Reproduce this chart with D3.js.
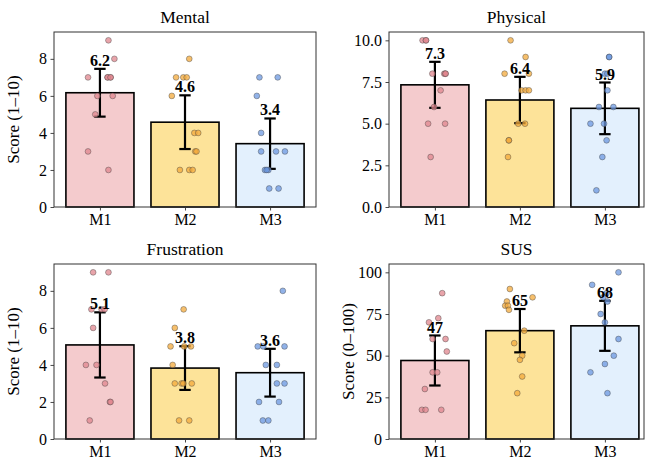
<!DOCTYPE html>
<html>
<head>
<meta charset="utf-8">
<script src="https://cdn.jsdelivr.net/npm/d3@7"></script>
<style>
  body { margin: 0; background: #fff; }
  svg { display: block; font-family: "Liberation Serif", "Times New Roman", serif; }
</style>
</head>
<body>
<div class="container"></div>
<script>
const W = 651;
const H = 463;

const methods = ['M1', 'M2', 'M3'];
const barColors = ['#f4cbcd', '#fde399', '#e3f0fd'];
const dotColors = ['#e0868d', '#f3a93b', '#6c98e0'];

const mentalMean = [6.17, 4.58, 3.42];
const mentalSd = [1.29, 1.45, 1.36];
const physicalMean = [7.33, 6.42, 5.92];
const physicalSd = [1.38, 1.39, 1.55];
const frustrationMean = [5.08, 3.83, 3.58];
const frustrationSd = [1.76, 1.18, 1.29];
const susMean = [47.1, 65.0, 67.9];
const susSd = [15, 13, 15];

// individual ratings per method
const mentalPts = [
    [9, 8, 7, 7, 7, 7, 7, 6, 6, 5, 3, 2],
    [8, 7, 7, 7, 6, 4, 4, 3, 3, 2, 2, 2],
    [7, 7, 6, 4, 3, 3, 3, 2, 2, 2, 1, 1]
];
const physicalPts = [
    [10, 10, 10, 8, 8, 8, 8, 7, 6, 5, 5, 3],
    [10, 9, 8, 8, 7, 7, 7, 5, 5, 4, 4, 3],
    [9, 9, 8, 8, 7, 6, 6, 5, 5, 4, 3, 1]
];
const frustrationPts = [
    [9, 9, 7, 7, 7, 6, 4, 4, 3, 2, 2, 1],
    [7, 6, 5, 5, 5, 4, 3, 3, 3, 3, 1, 1],
    [8, 5, 5, 5, 4, 4, 3, 3, 2, 2, 1, 1]
];
const susPts = [
    [87.5, 72.5, 70, 60, 60, 52.5, 40, 40, 30, 17.5, 17.5, 17.5],
    [90, 85, 82.5, 80, 80, 77.5, 65, 57.5, 50, 47.5, 37.5, 27.5],
    [100, 92.5, 87.5, 85, 82.5, 75, 70, 60, 50, 45, 40, 27.5]
];

// horizontal jitter of each dot, in category units
const mentalJit = [
    [0.10, 0.17, -0.14, 0.09, 0.125, 0.09, 0.125, -0.03, 0.15, -0.055, -0.14, 0.10],
    [0.05, -0.105, -0.02, 0.02, -0.155, 0.11, 0.155, 0.12, 0.135, -0.06, 0.05, 0.09],
    [-0.125, 0.09, -0.156, -0.105, -0.105, 0.07, 0.175, -0.06, -0.02, -0.04, -0.01, 0.10]
];
const physicalJit = [
    [-0.145, -0.105, -0.105, -0.03, 0.11, 0.125, 0.125, 0.067, -0.01, -0.08, 0.12, -0.05],
    [-0.11, 0.067, -0.18, 0.106, 0.02, 0.067, 0.106, -0.02, 0.06, -0.13, -0.13, -0.14],
    [0.05, 0.05, 0, 0.03, 0.03, -0.07, 0.10, -0.17, -0.01, 0.02, -0.03, -0.10]
];
const frustrationJit = [
    [-0.08, 0.10, -0.10, 0.02, 0.055, -0.08, -0.165, -0.04, 0.06, 0.117, 0.125, -0.12],
    [-0.016, -0.12, -0.17, -0.01, 0.07, -0.145, -0.12, -0.04, -0.02, 0.08, -0.07, 0.05],
    [0.15, -0.145, -0.08, 0.17, -0.05, 0.08, 0.08, 0.17, -0.13, 0.105, -0.085, -0.02]
];
const susJit = [
    [0.086, 0.04, -0.07, -0.027, 0.125, 0.14, -0.027, 0.027, -0.118, -0.153, -0.11, 0.075],
    [-0.118, 0.149, -0.153, -0.173, -0.141, -0.129, 0.051, -0.067, 0.027, 0, 0.027, -0.031],
    [0.16, -0.15, 0.02, -0.02, 0.03, -0.05, 0, 0.16, 0.105, 0, -0.17, 0.03]
];

const mentalTicks = [0, 2, 4, 6, 8];
const physicalTicks = [0, 2.5, 5, 7.5, 10];
const susTicks = [0, 25, 50, 75, 100];

const leftCol = { xs: [-0.54, 2.54], x0: 54, x1: 316 };
const rightCol = { xs: [-0.54, 2.46], x0: 389, x1: 644 };

const panels = [
    { title: 'Mental', mean: mentalMean, sd: mentalSd, pts: mentalPts, jit: mentalJit, ymax: 9.45, ticks: mentalTicks, tf: d3.format('d'), lf: d3.format('.1f'), ylabel: 'Score (1–10)', col: leftCol, y0: 32, y1: 207 },
    { title: 'Physical', mean: physicalMean, sd: physicalSd, pts: physicalPts, jit: physicalJit, ymax: 10.5, ticks: physicalTicks, tf: d3.format('.1f'), lf: d3.format('.1f'), ylabel: null, col: rightCol, y0: 32, y1: 207 },
    { title: 'Frustration', mean: frustrationMean, sd: frustrationSd, pts: frustrationPts, jit: frustrationJit, ymax: 9.45, ticks: mentalTicks, tf: d3.format('d'), lf: d3.format('.1f'), ylabel: 'Score (1–10)', col: leftCol, y0: 264, y1: 439 },
    { title: 'SUS', mean: susMean, sd: susSd, pts: susPts, jit: susJit, ymax: 105, ticks: susTicks, tf: d3.format('d'), lf: d3.format('.0f'), ylabel: 'Score (0–100)', col: rightCol, y0: 264, y1: 439 }
];

const svg = d3.select('.container')
    .append('svg')
    .attr('width', W)
    .attr('height', H);

panels.forEach(p => {
    const { x0, x1 } = p.col;
    const { y0, y1 } = p;
    const x = d3.scaleLinear().domain(p.col.xs).range([x0, x1]);
    const y = d3.scaleLinear().domain([0, p.ymax]).range([y1, y0]);
    const g = svg.append('g');

    // bars
    g.selectAll('rect.bar')
        .data(p.mean)
        .join('rect')
        .attr('class', 'bar')
        .attr('x', (d, i) => x(i - 0.4))
        .attr('y', d => y(d))
        .attr('width', x(0.8) - x(0))
        .attr('height', d => y(0) - y(d))
        .attr('fill', (d, i) => barColors[i])
        .attr('stroke', '#000')
        .attr('stroke-width', 1.6);

    // error bars
    const eb = g.selectAll('g.err')
        .data(p.mean)
        .join('g')
        .attr('class', 'err')
        .attr('stroke', '#000')
        .attr('stroke-width', 2.2);
    eb.append('line')
        .attr('x1', (d, i) => x(i)).attr('x2', (d, i) => x(i))
        .attr('y1', (d, i) => y(d - p.sd[i])).attr('y2', (d, i) => y(d + p.sd[i]));
    [-1, 1].forEach(s => {
        eb.append('line')
            .attr('x1', (d, i) => x(i) - 5.7).attr('x2', (d, i) => x(i) + 5.7)
            .attr('y1', (d, i) => y(d + s * p.sd[i])).attr('y2', (d, i) => y(d + s * p.sd[i]));
    });

    // dots
    p.pts.forEach((vals, i) => {
        g.selectAll(null)
            .data(vals)
            .join('circle')
            .attr('cx', (d, j) => x(i + p.jit[i][j]))
            .attr('cy', d => y(d))
            .attr('r', 2.9)
            .attr('fill', dotColors[i])
            .attr('fill-opacity', 0.75)
            .attr('stroke', '#444')
            .attr('stroke-opacity', 0.7)
            .attr('stroke-width', 0.6);
    });

    // value labels
    g.selectAll('text.val')
        .data(p.mean)
        .join('text')
        .attr('class', 'val')
        .attr('x', (d, i) => x(i))
        .attr('y', (d, i) => y(d + p.sd[i]) - 3)
        .attr('text-anchor', 'middle')
        .style('font-size', '16px')
        .style('font-weight', 'bold')
        .text(d => p.lf(d));

    // axes
    const yAxis = g.append('g')
        .attr('transform', `translate(${x0},0)`)
        .call(d3.axisLeft(y).tickValues(p.ticks).tickFormat(p.tf).tickSizeOuter(0).tickSize(3.5).tickPadding(3.5));
    const xAxis = g.append('g')
        .attr('transform', `translate(0,${y1})`)
        .call(d3.axisBottom(x).tickValues([0, 1, 2]).tickFormat(i => methods[i]).tickSizeOuter(0).tickSize(3.5).tickPadding(3.5));
    [yAxis, xAxis].forEach(a => {
        a.select('.domain').remove();
        a.selectAll('text').style('font-size', '16px').style('font-family', '"Liberation Serif", serif').attr('fill', '#000');
        a.selectAll('line').attr('stroke', '#333').attr('stroke-width', 0.9);
    });

    g.append('rect')
        .attr('x', x0).attr('y', y0)
        .attr('width', x1 - x0).attr('height', y1 - y0)
        .attr('fill', 'none')
        .attr('stroke', '#333')
        .attr('stroke-width', 1);

    g.append('text')
        .attr('x', (x0 + x1) / 2)
        .attr('y', y0 - 9)
        .attr('text-anchor', 'middle')
        .style('font-size', '17.5px')
        .text(p.title);

    if (p.ylabel) {
        g.append('text')
            .attr('transform', `translate(${x0 - 35},${(y0 + y1) / 2}) rotate(-90)`)
            .attr('text-anchor', 'middle')
            .style('font-size', '17px')
            .text(p.ylabel);
    }
});
</script>
</body>
</html>
